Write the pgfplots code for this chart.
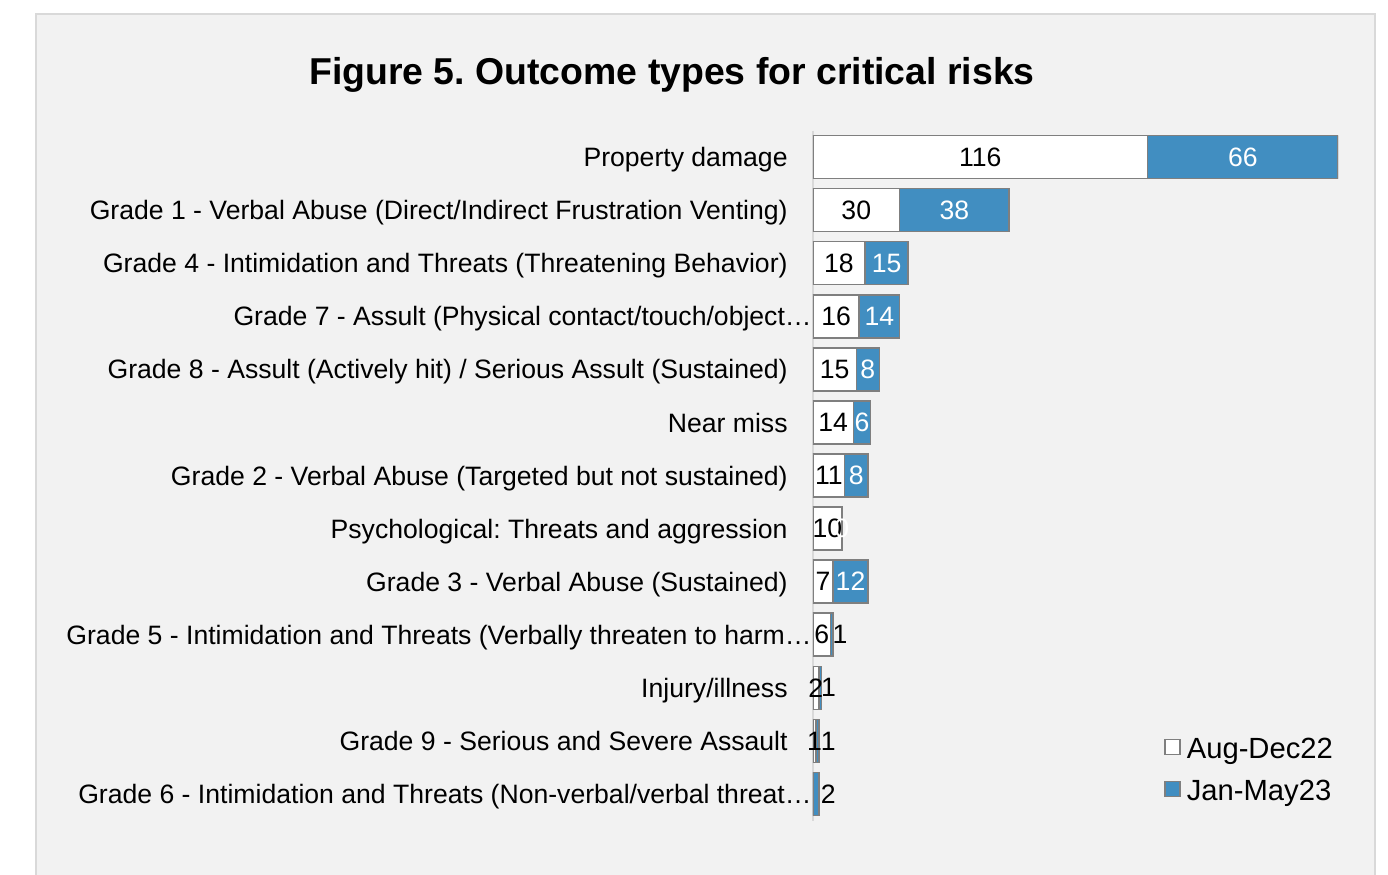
\documentclass[border=0pt]{standalone}
\usepackage{pgfplots}
\pgfplotsset{compat=1.18}
\usepackage{pgfplotstable}
\usepackage{fontspec}
\setmainfont{Liberation Sans}
\definecolor{barblue}{RGB}{65,142,193}
\definecolor{bordergray}{RGB}{127,127,127}
\definecolor{panel}{RGB}{242,242,242}
\definecolor{panelborder}{RGB}{217,217,217}

\pgfplotstableread{
y aug jan
0 116 66
1 30 38
2 18 15
3 16 14
4 15 8
5 14 6
6 11 8
7 10 0
8 7 12
9 6 1
10 2 1
11 1 1
12 0 2
}\data

\newcommand{\lblfont}{\fontsize{13.3}{16}\selectfont}

\pgfplotsset{mybase/.style={
  scale only axis, width=262.5pt, height=345pt,
  at={(406.5pt,26.75pt)}, anchor=south west,
  xmin=0, xmax=182, ymin=-0.5, ymax=12.5, y dir=reverse,
}}

\begin{document}
\frenchspacing
\begin{tikzpicture}[x=1pt,y=1pt]
\useasboundingbox (0,0) rectangle (694,437);
\fill[white] (0,0) rectangle (694,437);
\filldraw[fill=panel, draw=panelborder, line width=0.75pt] (18,-5) rectangle (687.5,430);
\node[font=\bfseries\fontsize{18.7}{22}\selectfont] at (336,399.5) {Figure 5. Outcome types for critical risks};

\begin{axis}[mybase,
  xbar stacked, bar width=21.5pt,
  hide x axis, axis y line*=left,
  y axis line style={draw=panelborder, line width=0.75pt},
  ytick={0,...,12},
  yticklabels={
    {Property damage},
    {Grade 1 - Verbal Abuse (Direct/Indirect Frustration Venting)},
    {Grade 4 - Intimidation and Threats (Threatening Behavior)},
    {Grade 7 - Assult (Physical contact/touch/object…\kern-12pt},
    {Grade 8 - Assult (Actively hit) / Serious Assult (Sustained)},
    {Near miss},
    {Grade 2 - Verbal Abuse (Targeted but not sustained)},
    {Psychological: Threats and aggression},
    {Grade 3 - Verbal Abuse (Sustained)},
    {Grade 5 - Intimidation and Threats (Verbally threaten to harm…\kern-12pt},
    {Injury/illness},
    {Grade 9 - Serious and Severe Assault},
    {Grade 6 - Intimidation and Threats (Non-verbal/verbal threat…\kern-12pt}},
  major tick length=0pt,
  yticklabel style={font=\lblfont, inner sep=0pt, anchor=base east, xshift=-12.5pt, yshift=-4.8pt},
  legend style={draw=none, fill=none, at={(0.657,0.1293)}, anchor=north west,
    font=\fontsize{14.6}{17}\selectfont, row sep=6pt,
    nodes={inner ysep=1pt, inner xsep=0pt, text height=10.5pt, text depth=2.5pt}},
  legend cell align=left,
]
\addplot[fill=white, draw=bordergray, line width=0.75pt,
  legend image code/.code={\draw[fill=white, draw=bordergray, line width=0.75pt] (0pt,-2pt) rectangle (7.5pt,5.5pt);}]
  table[x=aug, y=y] {\data};
\addplot[fill=barblue, draw=bordergray, line width=0.75pt,
  legend image code/.code={\draw[fill=barblue, draw=bordergray, line width=0.75pt] (0pt,-2pt) rectangle (7.5pt,5.5pt);}]
  table[x=jan, y=y] {\data};
\legend{\hspace{3pt}Aug-Dec22, \hspace{3pt}Jan-May23}
\end{axis}

\begin{axis}[mybase, hide axis,
  point meta=explicit symbolic,
  nodes near coords style={font=\lblfont, inner sep=0pt, anchor=center},
]
\addplot[only marks, mark=text, text mark={},
  nodes near coords={\ifnum\pgfplotspointmeta>0 \pgfplotspointmeta\fi},
  nodes near coords style={text=black}]
  table[x expr=\thisrow{aug}/2, y=y, meta=aug] {\data};
\addplot[only marks, mark=text, text mark={},
  nodes near coords={\ifnum\pgfplotspointmeta<5 \ifnum\pgfplotspointmeta=0 0\fi\else\pgfplotspointmeta\fi},
  nodes near coords style={text=white}]
  table[x expr=\thisrow{aug}+\thisrow{jan}/2, y=y, meta=jan] {\data};
\addplot[only marks, mark=text, text mark={},
  nodes near coords={\ifnum\pgfplotspointmeta<5 \ifnum\pgfplotspointmeta>0 \pgfplotspointmeta\fi\fi},
  nodes near coords style={text=black, anchor=west, xshift=-0.5pt}]
  table[x expr={max(\thisrow{aug}+\thisrow{jan},2.9)}, y=y, meta=jan] {\data};
\end{axis}
\end{tikzpicture}
\end{document}
